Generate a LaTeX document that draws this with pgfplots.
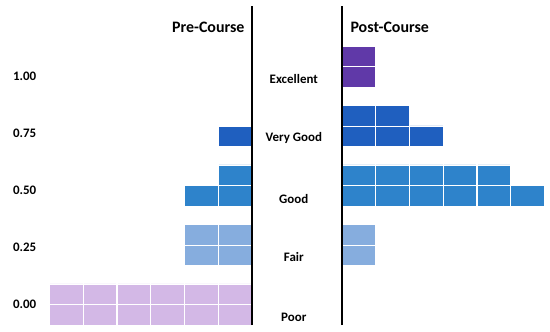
\documentclass[border=0pt]{standalone}
\usepackage{fontspec}
\setmainfont{Carlito}
\usepackage{pgfplots}
\pgfplotsset{compat=1.18}
\definecolor{cPoor}{HTML}{D3B8E6}
\definecolor{cFair}{HTML}{86ADDE}
\definecolor{cGood}{HTML}{2E83CB}
\definecolor{cVGood}{HTML}{1F5FBF}
\definecolor{cExc}{HTML}{6039A8}
\pgfplotsset{waffle/.style={
  scale only axis, height=319bp,
  ymin=-0.345, ymax=5.017, xmin=0,
  xbar, bar shift=0pt, bar width=0.345,
  axis line style={draw=none}, tick style={draw=none},
  xtick={1,2,3,4,5,6}, xticklabels={},
  xmajorgrids, grid style={white, line width=1.2bp},
  axis on top,
  extra x ticks={0}, extra x tick labels={},
  extra x tick style={grid=major, grid style={black, line width=1.8bp}},
  every axis plot/.append style={draw=white, line width=0.8bp},
  tick label style={font=\fontsize{13}{15}\selectfont\bfseries},
}}
\begin{document}
\begin{tikzpicture}
\useasboundingbox (0,0) rectangle (550bp,332bp);
% Pre-course (counts of cells per sub-row, extending leftwards)
\begin{axis}[waffle, x dir=reverse, xmax=6.222, width=210bp,
  at={(147bp,166.5bp)}, anchor=center,
  ytick={0,0.96,1.92,2.88,3.84},
  yticklabels={0.00,0.25,0.50,0.75,1.00},
  yticklabel style={xshift=2bp}]
\addplot[fill=cPoor] coordinates {(6,-0.172) (6,0.172)};
\addplot[fill=cFair] coordinates {(2,0.828) (2,1.172)};
\addplot[fill=cGood] coordinates {(2,1.828) (1,2.172)};
\addplot[fill=cVGood] coordinates {(1,2.828)};
\end{axis}
% Post-course
\begin{axis}[waffle, xmax=6.1, width=205.9bp,
  at={(445bp,166.5bp)}, anchor=center,
  ytick={-0.21,0.8,1.77,2.8,3.79},
  yticklabels={Poor,Fair,Good,Very Good,Excellent},
  yticklabel style={anchor=center, xshift=-44bp}]
\addplot[fill=cFair] coordinates {(1,0.828) (1,1.172)};
\addplot[fill=cGood] coordinates {(6,1.828) (5,2.172)};
\addplot[fill=cVGood] coordinates {(3,2.828) (2,3.172)};
\addplot[fill=cExc] coordinates {(1,3.828) (1,4.172)};
\end{axis}
\node[anchor=east, font=\fontsize{16}{18}\selectfont\bfseries] at (248bp,305bp) {Pre-Course};
\node[anchor=west, font=\fontsize{16}{18}\selectfont\bfseries] at (347bp,305bp) {Post-Course};
\end{tikzpicture}
\end{document}
